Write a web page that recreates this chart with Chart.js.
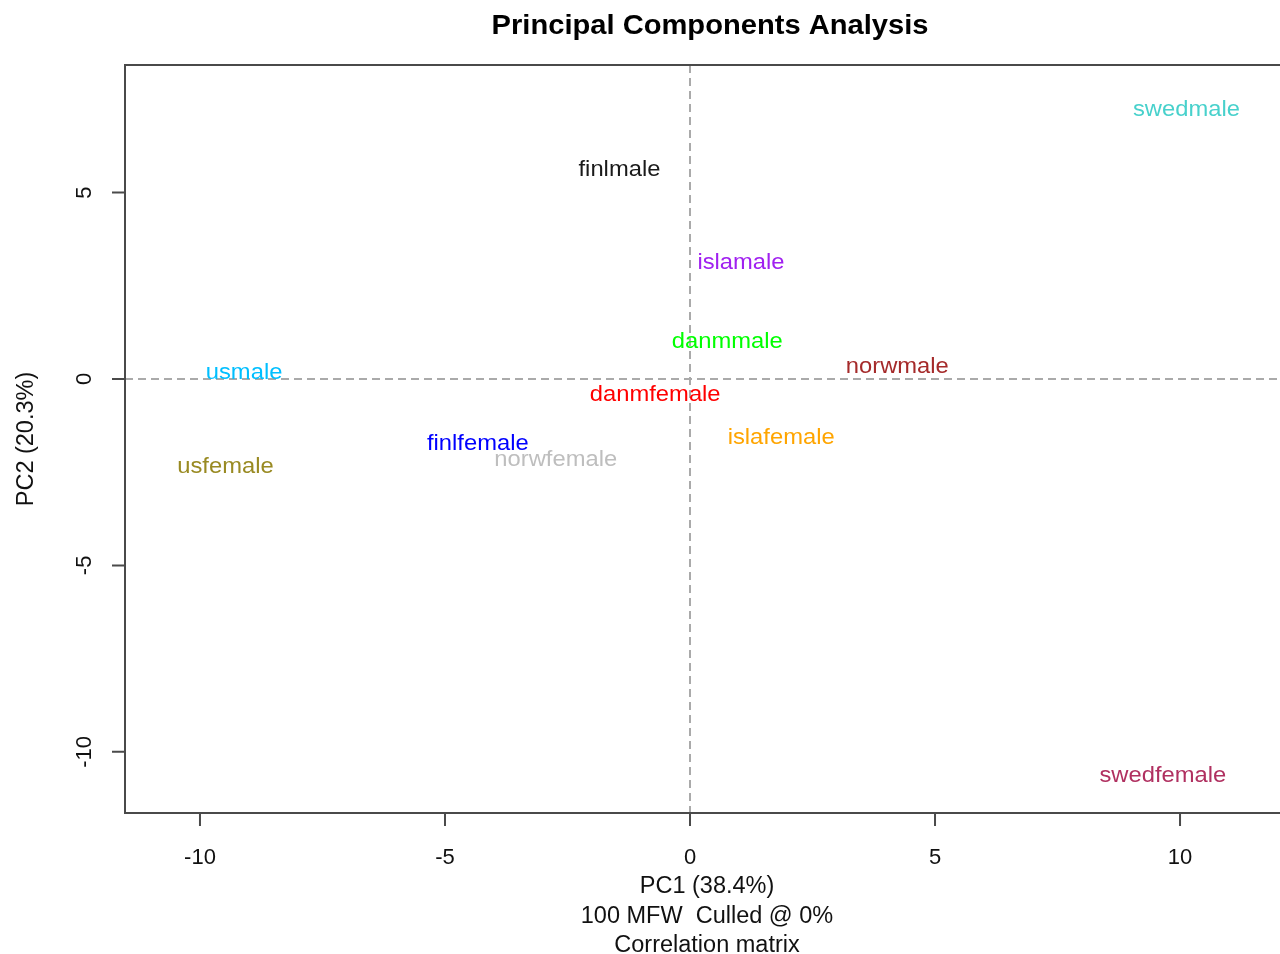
<!DOCTYPE html>
<html>
<head>
<meta charset="utf-8">
<title>Principal Components Analysis</title>
<script src="https://cdn.jsdelivr.net/npm/chart.js@4/dist/chart.umd.min.js"></script>
<style>
    html, body { margin: 0; padding: 0; background: #fff; overflow: hidden; }
    canvas { display: block; }
</style>
</head>
<body>
<canvas id="pcaChart" width="1280" height="954"></canvas>
<script>
// samples and their scores on the first two components
const samples = ['swedmale', 'finlmale', 'islamale', 'danmmale', 'norwmale', 'usmale',
    'danmfemale', 'islafemale', 'finlfemale', 'norwfemale', 'usfemale', 'swedfemale'];
const pc1 = [10.13, -1.44, 1.04, 0.76, 4.23, -9.10, -0.71, 1.86, -4.33, -2.74, -9.48, 9.65];
const pc2 = [7.26, 5.65, 3.16, 1.02, 0.37, 0.19, -0.40, -1.53, -1.71, -2.14, -2.33, -10.60];
const sampleColors = ['#48D1CC', '#1a1a1a', '#A020F0', '#00FF00', '#A52A2A', '#00BFFF',
    '#FF0000', '#FFA500', '#0000FF', '#BEBEBE', '#998A22', '#B03060'];

const xTicks = [-10, -5, 0, 5, 10];
const yTicks = [-10, -5, 0, 5];

const titleText = 'Principal Components Analysis';
const xTitleLines = ['PC1 (38.4%)', '100 MFW  Culled @ 0%', 'Correlation matrix'];
const yTitleText = 'PC2 (20.3%)';

const FONT = '"Liberation Sans", Arial, sans-serif';

function drawText(ctx, text, x, y, font, color, sx, rot) {
    ctx.save();
    ctx.translate(x, y);
    if (rot) ctx.rotate(rot);
    ctx.scale(sx, 1);
    ctx.font = font;
    ctx.fillStyle = color;
    ctx.textAlign = 'center';
    ctx.textBaseline = 'middle';
    ctx.fillText(text, 0, 0);
    ctx.restore();
}

// frame, zero lines, ticks and titles in R base-graphics style
const rAxes = {
    id: 'rAxes',
    beforeDatasetsDraw(chart) {
        const ctx = chart.ctx;
        const area = chart.chartArea;
        const xs = chart.scales.x;
        const ys = chart.scales.y;
        const x0 = xs.getPixelForValue(0);
        const y0 = ys.getPixelForValue(0);

        ctx.save();
        ctx.strokeStyle = '#aaaaaa';
        ctx.lineWidth = 2;
        ctx.setLineDash([8, 5]);
        ctx.beginPath();
        ctx.moveTo(area.left, y0);
        ctx.lineTo(area.right, y0);
        ctx.moveTo(x0, area.top);
        ctx.lineTo(x0, area.bottom);
        ctx.stroke();
        ctx.restore();

        ctx.save();
        ctx.strokeStyle = '#4a4a4a';
        ctx.lineWidth = 2;
        ctx.beginPath();
        ctx.moveTo(area.right, area.top);
        ctx.lineTo(area.left, area.top);
        ctx.lineTo(area.left, area.bottom);
        ctx.lineTo(area.right, area.bottom);
        ctx.stroke();

        ctx.beginPath();
        xTicks.forEach(v => {
            const px = xs.getPixelForValue(v);
            ctx.moveTo(px, area.bottom);
            ctx.lineTo(px, area.bottom + 13);
        });
        yTicks.forEach(v => {
            const py = ys.getPixelForValue(v);
            ctx.moveTo(area.left, py);
            ctx.lineTo(area.left - 13, py);
        });
        ctx.stroke();
        ctx.restore();

        xTicks.forEach(v => {
            drawText(ctx, String(v), xs.getPixelForValue(v), area.bottom + 45, '22px ' + FONT, '#111', 1.0);
        });
        yTicks.forEach(v => {
            drawText(ctx, String(v), area.left - 40, ys.getPixelForValue(v), '22px ' + FONT, '#111', 1.0, -Math.PI / 2);
        });

        drawText(ctx, titleText, 710, 26, 'bold 28px ' + FONT, '#000', 1.04);
        xTitleLines.forEach((line, i) => {
            drawText(ctx, line, 707, 887 + i * 29.5, '23.5px ' + FONT, '#111', 1.0);
        });
        drawText(ctx, yTitleText, 27, 439, '23.5px ' + FONT, '#111', 1.0, -Math.PI / 2);
    },
    afterDatasetsDraw(chart) {
        const ctx = chart.ctx;
        const meta = chart.getDatasetMeta(0);
        meta.data.forEach((pt, i) => {
            drawText(ctx, samples[i], pt.x, pt.y + 1.5, '22px ' + FONT, sampleColors[i], 1.08);
        });
    }
};

new Chart(document.getElementById('pcaChart'), {
    type: 'scatter',
    data: {
        datasets: [{
            data: pc1.map((v, i) => ({ x: v, y: pc2[i] })),
            pointRadius: 0,
            pointHoverRadius: 0
        }]
    },
    options: {
        responsive: false,
        animation: false,
        layout: { padding: { left: 125, top: 65, right: 0, bottom: 141 } },
        scales: {
            x: { type: 'linear', min: -11.53, max: 12.04, display: false },
            y: { type: 'linear', min: -11.64, max: 8.42, display: false }
        },
        plugins: {
            legend: { display: false },
            tooltip: { enabled: false }
        }
    },
    plugins: [rAxes]
});
</script>
</body>
</html>
